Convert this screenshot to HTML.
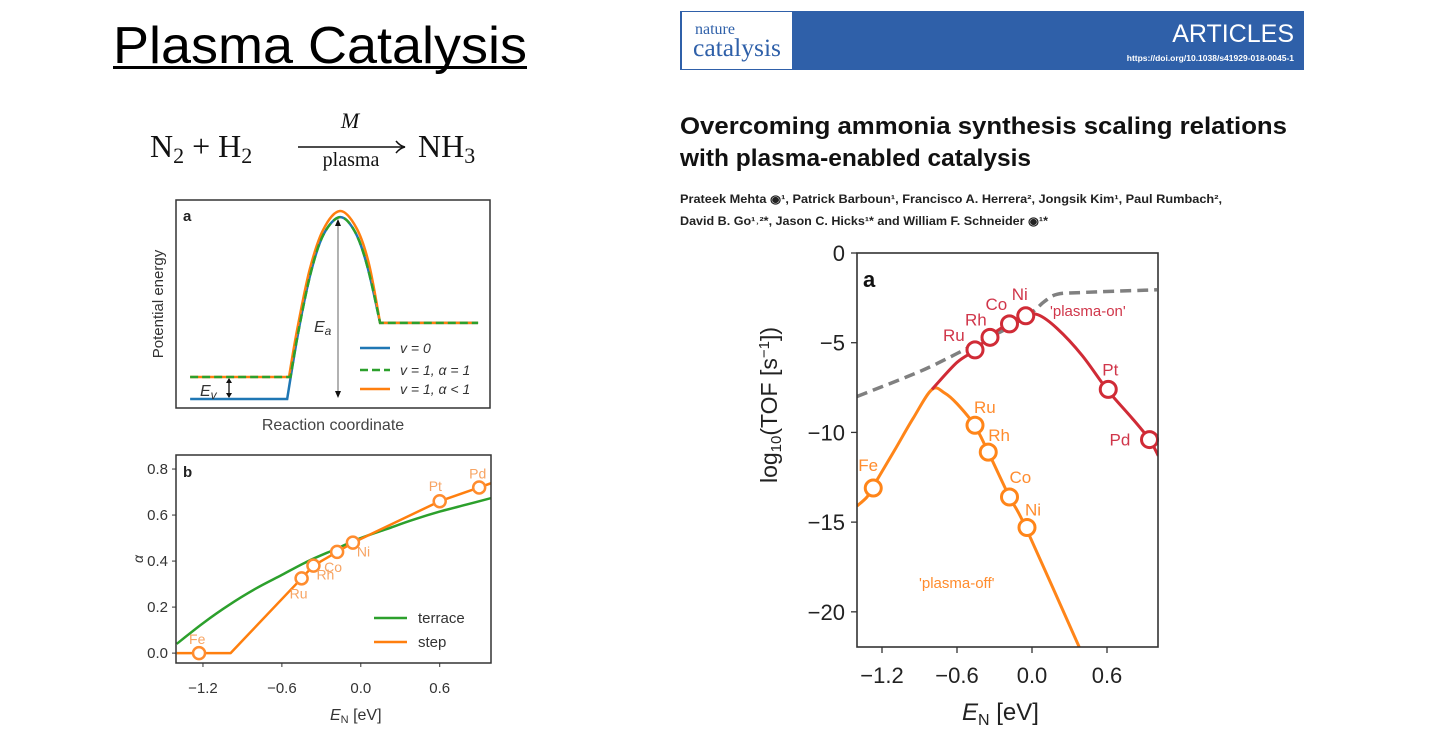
<!DOCTYPE html>
<html><head><meta charset="utf-8"><style>
html,body{margin:0;padding:0;background:#fff;width:1440px;height:736px;overflow:hidden}
svg{display:block;font-family:"Liberation Sans",sans-serif}
</style></head><body>
<svg id="slide" width="1440" height="736" viewBox="0 0 1440 736" xmlns="http://www.w3.org/2000/svg">
<g>
<text x="113" y="63" font-size="52" fill="#000" textLength="414" lengthAdjust="spacingAndGlyphs">Plasma Catalysis</text>
<rect x="113" y="66" width="414" height="3" fill="#000"/>
</g>
<g font-family="'Liberation Serif',serif" fill="#111">
<text x="150" y="157" font-size="32">N<tspan font-size="22" dy="6">2</tspan><tspan dy="-6"> + H</tspan><tspan font-size="22" dy="6">2</tspan></text>
<text x="350" y="128" font-size="22" font-style="italic" text-anchor="middle">M</text>
<line x1="298" y1="147" x2="402" y2="147" stroke="#111" stroke-width="1.5"/>
<path d="M396 141 Q400 146 405 147 Q400 148 396 153" fill="none" stroke="#111" stroke-width="1.5"/>
<text x="351" y="166" font-size="20" text-anchor="middle">plasma</text>
<text x="418" y="157" font-size="32">NH<tspan font-size="22" dy="6">3</tspan></text>
</g>
<g>
<rect x="680" y="11" width="624" height="59" fill="#2f60a9"/>
<rect x="682" y="12" width="110" height="57" fill="#fff"/>
<text x="695" y="34" font-family="'Liberation Serif',serif" font-size="16" fill="#2f60a9">nature</text>
<text x="693" y="56" font-family="'Liberation Serif',serif" font-size="25" fill="#2f60a9" textLength="88" lengthAdjust="spacingAndGlyphs">catalysis</text>
<text x="1294" y="42" font-size="25" fill="#fff" text-anchor="end">ARTICLES</text>
<text x="1294" y="61" font-size="8.5" font-weight="bold" fill="#fff" text-anchor="end">https://doi.org/10.1038/s41929-018-0045-1</text>
</g>
<g font-weight="bold" fill="#111">
<text x="680" y="134" font-size="24" textLength="607" lengthAdjust="spacingAndGlyphs">Overcoming ammonia synthesis scaling relations</text>
<text x="680" y="166" font-size="24" textLength="351" lengthAdjust="spacingAndGlyphs">with plasma-enabled catalysis</text>
</g>
<g font-weight="bold" fill="#222" font-size="11.5">
<text x="680" y="203" textLength="542" lengthAdjust="spacingAndGlyphs">Prateek Mehta ◉¹, Patrick Barboun¹, Francisco A. Herrera², Jongsik Kim¹, Paul Rumbach²,</text>
<text x="680" y="225" textLength="368" lengthAdjust="spacingAndGlyphs">David B. Go¹˒²*, Jason C. Hicks¹* and William F. Schneider ◉¹*</text>
</g>
<g id="panelA"></g>
<g id="panelB"></g>
<g id="panelR"></g>
</svg>
<script>
// ---- Panel a: schematic energy profile (reaction coordinate 0..1, energy 0..1)
const aBlueRC = [0.045,0.354,0.39,0.43,0.47,0.522,0.57,0.61,0.65,0.962];
const aBlueE  = [0.043,0.043,0.37,0.655,0.835,0.918,0.847,0.678,0.409,0.409];
const aOrangeRC = [0.045,0.36,0.385,0.425,0.468,0.522,0.575,0.615,0.65,0.962];
const aOrangeE  = [0.149,0.149,0.37,0.66,0.855,0.947,0.865,0.69,0.409,0.409];
const aGreenRC = [0.045,0.3645,0.39,0.43,0.47,0.522,0.57,0.61,0.65,0.962];
const aGreenE  = [0.149,0.149,0.37,0.655,0.835,0.918,0.847,0.678,0.409,0.409];
const aLegend = ["v = 0","v = 1, α = 1","v = 1, α < 1"];
// ---- Panel b: alpha vs E_N
const bTerraceX = [-1.4,-1.2,-1.0,-0.8,-0.6,-0.4,-0.2,0,0.2,0.4,0.6,0.8,1.0];
const bTerraceY = [0.04,0.13,0.21,0.28,0.34,0.40,0.45,0.50,0.54,0.58,0.615,0.645,0.675];
const bStepX = [-1.4,-0.99,-0.45,-0.36,-0.18,-0.06,0.6,0.9,1.0];
const bStepY = [0,0,0.325,0.38,0.44,0.48,0.66,0.72,0.74];
const bMetals = ["Fe","Ru","Rh","Co","Ni","Pt","Pd"];
const bMetalX = [-1.23,-0.45,-0.36,-0.18,-0.06,0.6,0.9];
const bMetalY = [0,0.325,0.38,0.44,0.48,0.66,0.72];
const bXTicks = [-1.2,-0.6,0.0,0.6];
const bXTickLabels = ["−1.2","−0.6","0.0","0.6"];
const bYTicks = [0,0.2,0.4,0.6,0.8];
const bYTickLabels = ["0.0","0.2","0.4","0.6","0.8"];
// ---- Right: log10(TOF) volcano
const onLineX = [-0.8,-0.6,-0.45,-0.35,-0.18,-0.05,0.05,0.2,0.4,0.6,0.8,0.94,1.01];
const onLineY = [-7.6,-6.1,-5.4,-4.7,-3.9,-3.5,-3.45,-4.2,-5.7,-7.6,-9.2,-10.4,-11.3];
const offLineX = [-1.4,-1.32,-1.27,-1.1,-0.95,-0.8,-0.7,-0.6,-0.46,-0.35,-0.18,-0.05,0.38];
const offLineY = [-14.1,-13.6,-13.0,-11.0,-9.2,-7.6,-7.8,-8.4,-9.6,-11.1,-13.6,-15.3,-22];
const dashX = [-1.4,-1.0,-0.8,-0.6,-0.4,-0.2,0,0.1,0.2,0.4,1.0];
const dashY = [-8.0,-6.9,-6.3,-5.6,-4.9,-4.2,-3.3,-2.7,-2.3,-2.2,-2.05];
const onMetals = ["Ru","Rh","Co","Ni","Pt","Pd"];
const onMetalX = [-0.456,-0.336,-0.18,-0.05,0.61,0.94];
const onMetalY = [-5.4,-4.7,-3.95,-3.5,-7.6,-10.4];
const offMetals = ["Fe","Ru","Rh","Co","Ni"];
const offMetalX = [-1.27,-0.456,-0.35,-0.18,-0.04];
const offMetalY = [-13.1,-9.6,-11.1,-13.6,-15.3];
const rXTicks = [-1.2,-0.6,0.0,0.6];
const rXTickLabels = ["−1.2","−0.6","0.0","0.6"];
const rYTicks = [0,-5,-10,-15,-20];
const rYTickLabels = ["0","−5","−10","−15","−20"];

const NS = "http://www.w3.org/2000/svg";
function mk(parent, tag, attrs, text){
  const e = document.createElementNS(NS, tag);
  for (const k in attrs) e.setAttribute(k, attrs[k]);
  if (text !== undefined) e.textContent = text;
  parent.appendChild(e);
  return e;
}
function smoothPath(pts){
  let d = "M" + pts[0][0].toFixed(1) + " " + pts[0][1].toFixed(1);
  for (let i = 0; i < pts.length - 1; i++){
    const p0 = pts[Math.max(0,i-1)], p1 = pts[i], p2 = pts[i+1], p3 = pts[Math.min(pts.length-1,i+2)];
    const c1x = p1[0] + (p2[0]-p0[0])/6, c1y = p1[1] + (p2[1]-p0[1])/6;
    const c2x = p2[0] - (p3[0]-p1[0])/6, c2y = p2[1] - (p3[1]-p1[1])/6;
    d += " C" + c1x.toFixed(1)+" "+c1y.toFixed(1)+" "+c2x.toFixed(1)+" "+c2y.toFixed(1)+" "+p2[0].toFixed(1)+" "+p2[1].toFixed(1);
  }
  return d;
}
function linePath(pts){ return "M" + pts.map(p=>p[0].toFixed(1)+" "+p[1].toFixed(1)).join(" L"); }

// ===== Panel a =====
(function(){
  const g = document.getElementById("panelA");
  const L=176,R=490,T=200,B=408;
  const sx = v => L + v*(R-L), sy = v => B - v*(B-T);
  const box = mk(g,"rect",{x:L,y:T,width:R-L,height:B-T,fill:"none",stroke:"#333","stroke-width":1.5});
   
  function sharpPath(xs,ys){
    const pts = xs.map((x,i)=>[sx(x),sy(ys[i])]);
    let d = "M"+pts[0][0]+" "+pts[0][1]+" L"+pts[1][0]+" "+pts[1][1];
    const mid = pts.slice(1, pts.length-1);
    d += smoothPath(mid).replace(/^M[^C]*/," ");
    d += " L"+pts[pts.length-1][0]+" "+pts[pts.length-1][1];
    return d;
  }
  const blue = mk(g,"path",{d:sharpPath(aBlueRC,aBlueE),fill:"none",stroke:"#1f77b4","stroke-width":2.5});
   
  const orange = mk(g,"path",{d:sharpPath(aOrangeRC,aOrangeE),fill:"none",stroke:"#ff7f0e","stroke-width":2.5});
   
  const green = mk(g,"path",{d:sharpPath(aGreenRC,aGreenE),fill:"none",stroke:"#2ca02c","stroke-width":2.5,"stroke-dasharray":"8 4"});
   
  const ea = mk(g,"g",{});
   
  mk(ea,"line",{x1:338,y1:222,x2:338,y2:394,stroke:"#888","stroke-width":1.3});
  mk(ea,"path",{d:"M335 226 L338 219 L341 226 Z M335 391 L338 398 L341 391 Z",fill:"#111"});
  const eat = mk(g,"text",{x:314,y:332,"font-size":16,"font-style":"italic",fill:"#333"});
  eat.innerHTML = 'E<tspan font-size="12" dy="3">a</tspan>';
   
  const ev = mk(g,"g",{});
   
  mk(ev,"line",{x1:229,y1:379,x2:229,y2:397,stroke:"#111","stroke-width":1.3});
  mk(ev,"path",{d:"M226 383 L229 378 L232 383 Z M226 393 L229 398 L232 393 Z",fill:"#111"});
  const evt = mk(g,"text",{x:200,y:396,"font-size":16,"font-style":"italic",fill:"#333"});
  evt.innerHTML = 'E<tspan font-size="12" dy="3">v</tspan>';
   
  const pl = mk(g,"text",{x:183,y:221,"font-size":15,"font-weight":"bold",fill:"#222"},"a");
   
  const yl = mk(g,"text",{x:0,y:0,"font-size":15,fill:"#333","text-anchor":"middle",transform:"translate(163,304) rotate(-90)"},"Potential energy");
   
  const xl = mk(g,"text",{x:333,y:430,"font-size":16,fill:"#444","text-anchor":"middle"},"Reaction coordinate");
   
  const cols = ["#1f77b4","#2ca02c","#ff7f0e"], ys=[348,370,389];
  aLegend.forEach((lab,i)=>{
    const le = mk(g,"g",{});
     
    mk(le,"line",{x1:360,y1:ys[i],x2:390,y2:ys[i],stroke:cols[i],"stroke-width":2.5,"stroke-dasharray":i==1?"8 4":"none"});
    mk(le,"text",{x:400,y:ys[i]+5,"font-size":14,"font-style":"italic",fill:"#333"},lab);
  });
})();

// ===== Panel b =====
(function(){
  const g = document.getElementById("panelB");
  const L=176,R=491,T=455,B=663;
  const x0=-1.405,x1=0.99,y0=-0.043,y1=0.861;
  const sx = v => L + (v-x0)/(x1-x0)*(R-L);
  const sy = v => B - (v-y0)/(y1-y0)*(B-T);
  const defs = mk(g,"clipPath",{id:"clipB"}); mk(defs,"rect",{x:L,y:T,width:R-L,height:B-T});
  const ter = mk(g,"path",{d:smoothPath(bTerraceX.map((x,i)=>[sx(x),sy(bTerraceY[i])])),fill:"none",stroke:"#2ca02c","stroke-width":2.5,"clip-path":"url(#clipB)"});
   
  const st = mk(g,"path",{d:linePath(bStepX.map((x,i)=>[sx(x),sy(bStepY[i])])),fill:"none",stroke:"#ff7f0e","stroke-width":2.5,"stroke-linejoin":"round","clip-path":"url(#clipB)"});
   
  const offs = [[-10,-9],[-12,20],[3,14],[-13,20],[4,14],[-11,-10],[-10,-9]];
  bMetals.forEach((m,i)=>{
    const c = mk(g,"circle",{cx:sx(bMetalX[i]),cy:sy(bMetalY[i]),r:6,fill:"#fff",stroke:"#ff8c2e","stroke-width":2.5});
     
    const t = mk(g,"text",{x:sx(bMetalX[i])+offs[i][0],y:sy(bMetalY[i])+offs[i][1],"font-size":14,fill:"#f7a463"},m);
     
  });
  const box = mk(g,"rect",{x:L,y:T,width:R-L,height:B-T,fill:"none",stroke:"#333","stroke-width":1.5});
   
  bXTicks.forEach((v,i)=>{
    mk(g,"line",{x1:sx(v),y1:B,x2:sx(v),y2:B+4,stroke:"#333"});
    const t = mk(g,"text",{x:sx(v),y:B+30,"font-size":15,fill:"#333","text-anchor":"middle"},bXTickLabels[i]);
     
  });
  bYTicks.forEach((v,i)=>{
    mk(g,"line",{x1:L-4,y1:sy(v),x2:L,y2:sy(v),stroke:"#333"});
    const t = mk(g,"text",{x:L-8,y:sy(v)+5,"font-size":15,fill:"#333","text-anchor":"end"},bYTickLabels[i]);
     
  });
  const yl = mk(g,"text",{x:0,y:0,"font-size":14,"font-style":"italic",fill:"#333","text-anchor":"middle",transform:"translate(143,559) rotate(-90)"},"α");
   
  const xl = mk(g,"text",{x:330,y:720,"font-size":16,fill:"#333"});
  xl.innerHTML = '<tspan font-style="italic">E</tspan><tspan font-size="11" dy="3">N</tspan><tspan dy="-3"> [eV]</tspan>';
   
  const pl = mk(g,"text",{x:183,y:477,"font-size":15,"font-weight":"bold",fill:"#222"},"b");
   
  [["terrace","#2ca02c",618],["step","#ff7f0e",642]].forEach(e=>{
    const le = mk(g,"g",{});
     
    mk(le,"line",{x1:374,y1:e[2],x2:407,y2:e[2],stroke:e[1],"stroke-width":2.5});
    mk(le,"text",{x:418,y:e[2]+5,"font-size":15,fill:"#333"},e[0]);
  });
})();

// ===== Right chart =====
(function(){
  const g = document.getElementById("panelR");
  const L=857,R=1158,T=253,B=647;
  const x0=-1.4,x1=1.008,y0=-21.96,y1=0;
  const sx = v => L + (v-x0)/(x1-x0)*(R-L);
  const sy = v => B - (v-y0)/(y1-y0)*(B-T);
  const cp = mk(g,"clipPath",{id:"clipR"}); mk(cp,"rect",{x:L,y:T,width:R-L,height:B-T});
  const dash = mk(g,"path",{d:smoothPath(dashX.map((x,i)=>[sx(x),sy(dashY[i])])),fill:"none",stroke:"#808080","stroke-width":3.5,"stroke-dasharray":"11 6","clip-path":"url(#clipR)"});
   
  const off = mk(g,"path",{d:smoothPath(offLineX.map((x,i)=>[sx(x),sy(offLineY[i])])),fill:"none",stroke:"#ff8519","stroke-width":3,"clip-path":"url(#clipR)"});
   
  const on = mk(g,"path",{d:smoothPath(onLineX.map((x,i)=>[sx(x),sy(onLineY[i])])),fill:"none",stroke:"#d02b36","stroke-width":3,"clip-path":"url(#clipR)"});
   
  const onOff = [[-32,-9],[-25,-12],[-24,-14],[-14,-16],[-6,-14],[-40,6]];
  onMetals.forEach((m,i)=>{
    const c = mk(g,"circle",{cx:sx(onMetalX[i]),cy:sy(onMetalY[i]),r:8,fill:"#fff",stroke:"#d02b36","stroke-width":3});
     
    const t = mk(g,"text",{x:sx(onMetalX[i])+onOff[i][0],y:sy(onMetalY[i])+onOff[i][1],"font-size":17,fill:"#d0364a"},m);
     
  });
  const offOff = [[-15,-17],[-1,-12],[0,-11],[0,-14],[-2,-12]];
  offMetals.forEach((m,i)=>{
    const c = mk(g,"circle",{cx:sx(offMetalX[i]),cy:sy(offMetalY[i]),r:8,fill:"#fff",stroke:"#ff8519","stroke-width":3});
     
    const t = mk(g,"text",{x:sx(offMetalX[i])+offOff[i][0],y:sy(offMetalY[i])+offOff[i][1],"font-size":17,fill:"#ff8c2e"},m);
     
  });
  const ton = mk(g,"text",{x:1050,y:316,"font-size":15,fill:"#d0364a"},"'plasma-on'");
   
  const toff = mk(g,"text",{x:919,y:588,"font-size":15,fill:"#ff8c2e"},"'plasma-off'");
   
  const box = mk(g,"rect",{x:L,y:T,width:R-L,height:B-T,fill:"none",stroke:"#333","stroke-width":1.6});
   
  const pl = mk(g,"text",{x:863,y:287,"font-size":22,"font-weight":"bold",fill:"#111"},"a");
   
  rXTicks.forEach((v,i)=>{
    mk(g,"line",{x1:sx(v),y1:B,x2:sx(v),y2:B+6,stroke:"#333","stroke-width":1.3});
    const t = mk(g,"text",{x:sx(v),y:B+36,"font-size":22,fill:"#222","text-anchor":"middle"},rXTickLabels[i]);
     
  });
  rYTicks.forEach((v,i)=>{
    mk(g,"line",{x1:L-6,y1:sy(v),x2:L,y2:sy(v),stroke:"#333","stroke-width":1.3});
    const t = mk(g,"text",{x:L-12,y:sy(v)+8,"font-size":22,fill:"#222","text-anchor":"end"},rYTickLabels[i]);
     
  });
  const yl = mk(g,"text",{x:0,y:0,"font-size":23,fill:"#222","text-anchor":"middle",transform:"translate(777,405) rotate(-90)"});
  yl.innerHTML = 'log<tspan font-size="15" dy="4">10</tspan><tspan dy="-4">(TOF [s</tspan><tspan font-size="15" dy="-8">−1</tspan><tspan dy="8">])</tspan>';
   
  const xl = mk(g,"text",{x:962,y:720,"font-size":24,fill:"#222"});
  xl.innerHTML = '<tspan font-style="italic">E</tspan><tspan font-size="16" dy="5">N</tspan><tspan dy="-5"> [eV]</tspan>';
   
})();
</script>
</body></html>
